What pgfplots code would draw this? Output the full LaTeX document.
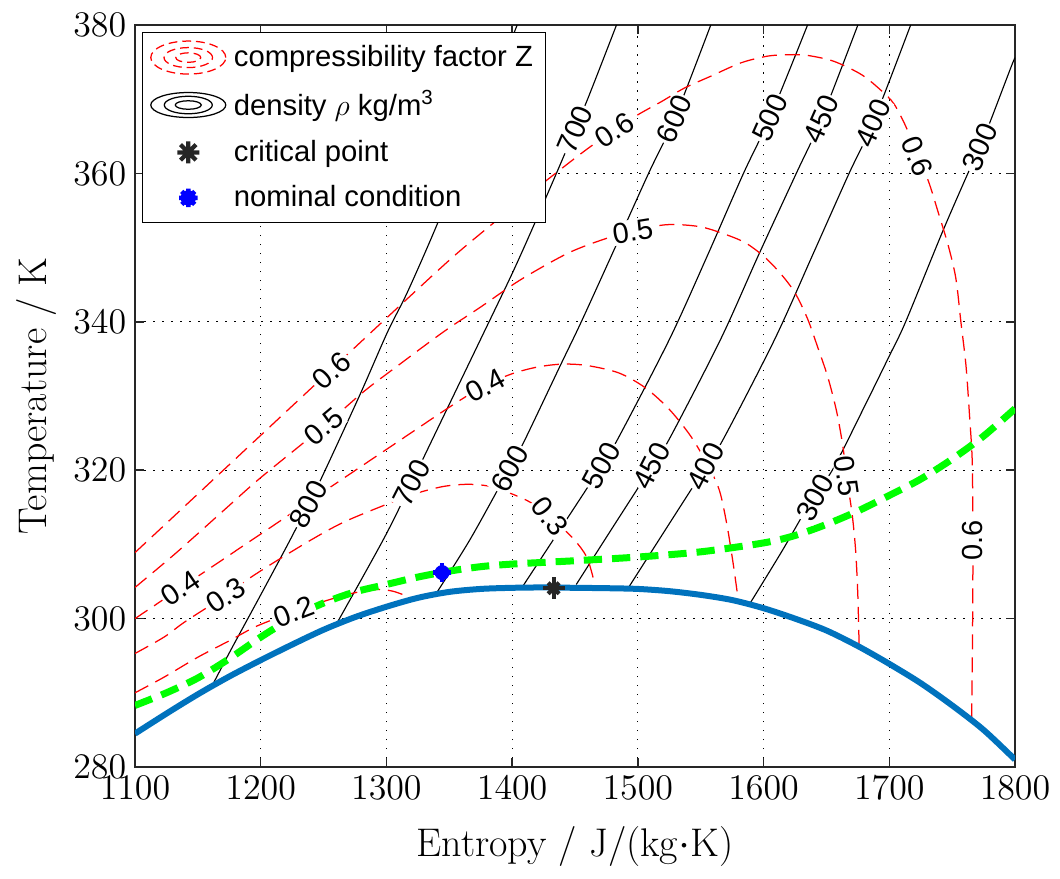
\documentclass[border=0pt]{standalone}
\usepackage{fontspec}
\usepackage{pgfplots}
\pgfplotsset{compat=1.18}
\newfontfamily\hel{Liberation Sans}

\definecolor{domeblue}{RGB}{0,114,189}
\definecolor{axgray}{RGB}{38,38,38}

\tikzset{
  zline/.style={red, line width=0.5pt, dash pattern=on 6pt off 3.2pt, smooth},
  rholine/.style={black, line width=0.45pt, smooth},
  clab/.style={font=\hel\fontsize{11.6}{13}\selectfont, fill=white, inner sep=0.6pt},
}

\begin{document}
\begin{tikzpicture}
\begin{axis}[
  scale only axis,
  width=352pt, height=296.8pt,
  xmin=1100, xmax=1800, ymin=280, ymax=380,
  xtick={1100,1200,...,1800},
  ytick={280,300,...,380},
  /pgf/number format/1000 sep={},
  xtick pos=both, ytick pos=both,
  xticklabel pos=lower, yticklabel pos=left,
  tick align=inside,
  major tick length=3.6pt,
  grid=major,
  grid style={black, line width=0.5pt, dash pattern=on 0.6pt off 3pt},
  axis line style={axgray, line width=0.6pt},
  every tick/.style={axgray, line width=0.6pt},
  tick label style={font=\fontsize{14.4}{16}\selectfont},
  label style={font=\fontsize{16}{19}\selectfont},
  xlabel style={yshift=-4pt},
  xlabel={Entropy / J/(kg$\cdot$K)},
  ylabel={Temperature / K},
  legend cell align=left,
  legend style={
    at={(axis description cs:0.008,0.9906)}, anchor=north west,
    draw=black, fill=white, line width=0.5pt,
    inner xsep=3pt, inner ysep=3pt,
    font=\hel\fontsize{11.7}{14}\selectfont,
    row sep=4.2pt,
    /tikz/every odd column/.append style={column sep=1pt},
  },
]

% legend entries
\addlegendimage{legend image code/.code={
  \path[draw=none, fill=none] (0pt,-6.6pt) rectangle (30pt,6.6pt);
  \draw[red, line width=0.5pt, dash pattern=on 3.5pt off 2pt] (15pt,0pt) ellipse [x radius=15pt, y radius=6.6pt];
  \draw[red, line width=0.5pt, dash pattern=on 3.5pt off 2pt] (15pt,0pt) ellipse [x radius=9.7pt, y radius=4pt];
  \draw[red, line width=0.5pt, dash pattern=on 3.5pt off 2pt] (15pt,0pt) ellipse [x radius=5pt, y radius=1.9pt];
}}
\addlegendentry{compressibility factor Z}
\addlegendimage{legend image code/.code={
  \path[draw=none, fill=none] (0pt,-6.6pt) rectangle (30pt,6.6pt);
  \draw[black, line width=0.5pt] (15pt,0pt) ellipse [x radius=15pt, y radius=5pt];
  \draw[black, line width=0.5pt] (15pt,0pt) ellipse [x radius=9.6pt, y radius=3.5pt];
  \draw[black, line width=0.5pt] (15pt,0pt) ellipse [x radius=5.2pt, y radius=1.7pt];
}}
\addlegendentry{density $\rho$ kg/m\textsuperscript{3}}
\addlegendimage{legend image code/.code={
  \path[draw=none, fill=none] (0pt,-6.6pt) rectangle (30pt,6.6pt);
  \draw[axgray, line width=1.7pt] (15pt,-4.4pt) -- (15pt,4.4pt) (10.6pt,0pt) -- (19.4pt,0pt)
    (11.9pt,-3.1pt) -- (18.1pt,3.1pt) (11.9pt,3.1pt) -- (18.1pt,-3.1pt);
}}
\addlegendentry{critical point}
\addlegendimage{legend image code/.code={
  \path[draw=none, fill=none] (0pt,-6.6pt) rectangle (30pt,6.6pt);
  \fill[blue] (15pt,0pt) circle (2.8pt);
  \draw[blue, line width=1.8pt] (15pt,-3.7pt) -- (15pt,3.7pt) (11.3pt,0pt) -- (18.7pt,0pt)
    (12.4pt,-2.6pt) -- (17.6pt,2.6pt) (12.4pt,2.6pt) -- (17.6pt,-2.6pt);
}}
\addlegendentry{nominal condition}

% density contours
\addplot[rholine, forget plot] coordinates {(1161.5,291.0) (1176,295.7) (1200,303.2) (1224,310.8) (1238,315.5) (1248.5,319.0) (1279,330.2) (1300.8,338.6) (1316.7,344.0) (1340,353.0) (1370,365.6) (1404,380)};
\addplot[rholine, forget plot] coordinates {(1260,299.2) (1298,310.8) (1320,318.3) (1331,322.2) (1374.5,337.5) (1400,346.5) (1418,353.3) (1440,361.9) (1460,370) (1483,380)};
\addplot[rholine, forget plot] coordinates {(1340,303.5) (1367,310.8) (1398,320.3) (1409,323.7) (1438,334) (1455,340) (1480,349.3) (1508.5,360) (1529,367.3) (1558,380)};
\addplot[rholine, forget plot] coordinates {(1409,304.5) (1440,312.5) (1470,320.3) (1484,324.2) (1525,337.6) (1555,348.8) (1584,360) (1605,367.5) (1635,380)};
\addplot[rholine, forget plot] coordinates {(1451,304.6) (1480,312.3) (1510,320.2) (1525,324.2) (1566,337.7) (1596,349) (1626,360) (1646,367.3) (1675,380)};
\addplot[rholine, forget plot] coordinates {(1493,304.3) (1522,312) (1553,320.2) (1568,324.2) (1609,337.7) (1639,349) (1668,360) (1687,366.8) (1717,380)};
\addplot[rholine, forget plot] coordinates {(1589,302) (1615,309.2) (1640,316.5) (1655,320.1) (1680,328.5) (1700,335.4) (1713,340) (1742,352) (1762.5,360) (1772,363.5) (1781,367.3) (1797,374.4) (1800,375.6)};

% compressibility factor contours
\addplot[zline, forget plot] coordinates {(1100,290.0) (1123,292.1) (1150,294.8) (1176,297.1) (1197,299.0) (1226,300.9) (1248,302.2) (1270,303.3) (1290,303.9) (1305,303.7) (1321,302.7)};
\addplot[zline, forget plot] coordinates {(1100,295.3) (1123,297.5) (1140,299.6) (1172,303.1) (1189,305.2) (1208,307.3) (1240,310.6) (1266,313.0) (1300,315.4) (1320,316.7) (1345,317.8) (1366,318.1) (1385,317.7) (1412,315.9) (1430,313.8) (1449,310.7) (1459,308.4) (1464,305.8) (1466,304.1)};
\addplot[zline, forget plot] coordinates {(1100,300.0) (1136,304.1) (1200,311.4) (1250,317.1) (1300,322.8) (1351,328.6) (1378,331.4) (1400,333.0) (1420,333.9) (1440,334.3) (1460,334.1) (1485,333.1) (1506,331.1) (1525,328.2) (1542,324.6) (1556,320.6) (1565,317.2) (1571,312.5) (1576,307.2) (1580,302.3)};
\addplot[zline, forget plot] coordinates {(1100,304.2) (1133,308.9) (1172,314.8) (1200,319.0) (1250,325.9) (1282,330.6) (1306,333.7) (1345,338.6) (1375,342.0) (1407,345.7) (1445,349.3) (1476,351.3) (1496,352.2) (1518,353.0) (1532,353.1) (1550,352.8) (1566,352.0) (1585,350.7) (1601,348.7) (1614,346.4) (1625,343.9) (1635,340.4) (1643,336.6) (1651,332.6) (1658,328.0) (1663,323.3) (1666,319.2) (1670.5,314.0) (1673.3,309.0) (1675,303.0) (1676,296.3)};
\addplot[zline, forget plot] coordinates {(1100,308.9) (1150,316.8) (1200,324.7) (1250,332.6) (1300,340.5) (1350,348.3) (1380,352.6) (1418,357.8) (1445,361.4) (1463,363.7) (1481,365.8) (1500,367.9) (1519,369.7) (1537,371.5) (1558,373.1) (1582,374.9) (1603,375.8) (1620,376.0) (1635,375.9) (1656,375.1) (1678,373.3) (1694,371.1) (1704,369.3) (1714,366.0) (1722,362.3) (1731,359.0) (1739,354.7) (1747,350.2) (1753,345.8) (1757,339.9) (1761,334.1) (1764,326.9) (1766,321.0) (1766.5,310.5) (1766.3,300.0) (1765.5,286.2)};

% saturation dome
\addplot[domeblue, line width=2.4pt, smooth, forget plot] coordinates {(1100,284.5) (1125,287.2) (1150,289.8) (1175,292.2) (1200,294.4) (1225,296.5) (1250,298.5) (1275,300.2) (1300,301.6) (1325,302.8) (1350,303.6) (1375,304.0) (1400,304.15) (1425,304.2) (1450,304.15) (1475,304.1) (1500,304.0) (1525,303.7) (1550,303.2) (1575,302.5) (1600,301.4) (1625,300.0) (1650,298.4) (1675,296.3) (1700,293.9) (1725,291.3) (1750,288.3) (1775,285.0) (1800,281.0)};

% green dashed line
\addplot[green, line width=2.8pt, dash pattern=on 7.3pt off 4pt, smooth, forget plot] coordinates {(1100,288.3) (1125,290.0) (1150,292.0) (1175,294.6) (1200,297.5) (1225,300.1) (1250,302.1) (1275,303.6) (1300,304.6) (1325,305.6) (1350,306.4) (1375,307.0) (1400,307.35) (1450,307.8) (1500,308.3) (1550,309.0) (1600,310.2) (1625,311.2) (1650,312.7) (1675,314.5) (1700,316.6) (1725,318.8) (1750,321.5) (1775,324.6) (1800,328.3)};

% points
\addplot[only marks, mark=+, mark size=4.4pt, axgray, line width=1.7pt, forget plot] coordinates {(1433,304.1)};
\addplot[only marks, mark=x, mark size=3.1pt, axgray, line width=1.7pt, forget plot] coordinates {(1433,304.1)};
\addplot[only marks, mark=*, mark size=2.8pt, blue, draw=blue, forget plot] coordinates {(1344.3,306.2)};
\addplot[only marks, mark=+, mark size=3.7pt, blue, line width=1.8pt, forget plot] coordinates {(1344.3,306.2)};
\addplot[only marks, mark=x, mark size=2.6pt, blue, line width=1.8pt, forget plot] coordinates {(1344.3,306.2)};

% contour labels, density
\node[clab, rotate=62] at (axis cs:1238,315.4) {800};
\node[clab, rotate=63] at (axis cs:1320,318.3) {700};
\node[clab, rotate=62] at (axis cs:1398,320.2) {600};
\node[clab, rotate=62] at (axis cs:1471,320.6) {500};
\node[clab, rotate=63] at (axis cs:1511,320.6) {450};
\node[clab, rotate=63] at (axis cs:1554,320.5) {400};
\node[clab, rotate=61] at (axis cs:1641,316.3) {300};
\node[clab, rotate=67] at (axis cs:1450,365.9) {700};
\node[clab, rotate=66] at (axis cs:1529,367.3) {600};
\node[clab, rotate=66] at (axis cs:1605,367.5) {500};
\node[clab, rotate=66] at (axis cs:1646,367.3) {450};
\node[clab, rotate=66] at (axis cs:1687,366.8) {400};
\node[clab, rotate=67] at (axis cs:1772,363.5) {300};
% contour labels, compressibility factor
\node[clab, rotate=43] at (axis cs:1256.5,333.4) {0.6};
\node[clab, rotate=40] at (axis cs:1250,325.9) {0.5};
\node[clab, rotate=34] at (axis cs:1136.3,304.1) {0.4};
\node[clab, rotate=33] at (axis cs:1172,303.1) {0.3};
\node[clab, rotate=21] at (axis cs:1226.5,300.9) {0.2};
\node[clab, rotate=28] at (axis cs:1378.5,331.4) {0.4};
\node[clab, rotate=-52] at (axis cs:1430,313.8) {0.3};
\node[clab, rotate=9] at (axis cs:1496,352.2) {0.5};
\node[clab, rotate=34] at (axis cs:1481.5,365.8) {0.6};
\node[clab, rotate=-68] at (axis cs:1722,362.3) {0.6};
\node[clab, rotate=-82] at (axis cs:1666,319.2) {0.5};
\node[clab, rotate=90] at (axis cs:1766.5,310.5) {0.6};
\end{axis}
\pgfresetboundingbox
\path[use as bounding box] (current axis.south west) ++(-54pt,-44.4pt) rectangle ([xshift=18pt,yshift=10pt]current axis.north east);
\end{tikzpicture}
\end{document}
